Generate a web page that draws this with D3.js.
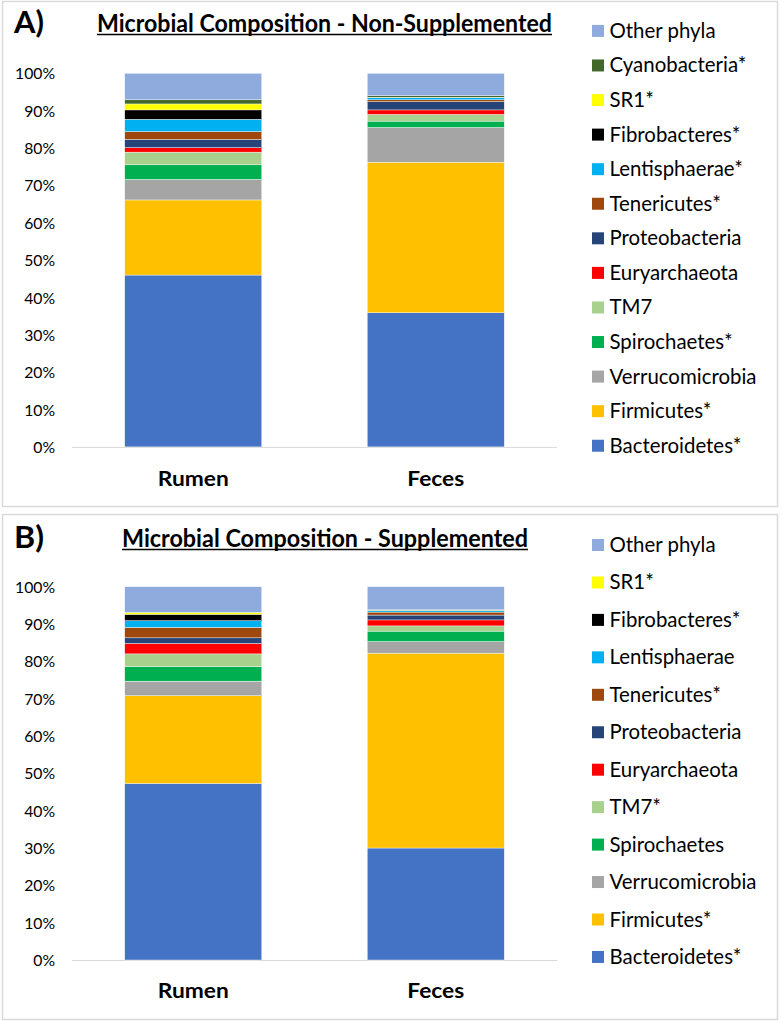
<!DOCTYPE html>
<html>
<head>
<meta charset="utf-8">
<script src="https://cdn.jsdelivr.net/npm/d3@7"></script>
<style>
  html, body { margin: 0; padding: 0; background: #fff; }
  svg { display: block; }
  text { font-family: Lato, "Open Sans", "DejaVu Sans", sans-serif; fill: #000; }
</style>
</head>
<body>
<svg id="chart" width="781" height="1023"></svg>
<script>
// ---------------- DATA ----------------
const samples = ["Rumen", "Feces"];
const tickValues = [0, 10, 20, 30, 40, 50, 60, 70, 80, 90, 100];
const tickLabels = ["0%", "10%", "20%", "30%", "40%", "50%", "60%", "70%", "80%", "90%", "100%"];

// Panel A (stack order bottom -> top)
const phylaA = ["Bacteroidetes*", "Firmicutes*", "Verrucomicrobia", "Spirochaetes*", "TM7",
  "Euryarchaeota", "Proteobacteria", "Tenericutes*", "Lentisphaerae*", "Fibrobacteres*",
  "SR1*", "Cyanobacteria*", "Other phyla"];
const rumenA = [46.0, 20.1, 5.5, 3.9, 3.4, 1.2, 2.2, 2.1, 3.3, 2.5, 1.6, 1.1, 7.1];
const fecesA = [35.9, 40.3, 9.3, 1.7, 1.8, 1.2, 2.2, 0.5, 0.6, 0.05, 0.05, 0.4, 6.0];

// Panel B (stack order bottom -> top)
const phylaB = ["Bacteroidetes*", "Firmicutes*", "Verrucomicrobia", "Spirochaetes", "TM7*",
  "Euryarchaeota", "Proteobacteria", "Tenericutes*", "Lentisphaerae", "Fibrobacteres*",
  "SR1*", "Other phyla"];
const rumenB = [47.3, 23.5, 3.9, 3.9, 3.4, 2.8, 1.5, 2.8, 1.8, 1.7, 0.5, 6.9];
const fecesB = [30.0, 52.2, 3.1, 2.8, 1.4, 1.6, 1.3, 0.8, 0.4, 0.1, 0.1, 6.2];

const titleA = "Microbial Composition - Non-Supplemented";
const titleB = "Microbial Composition - Supplemented";

// ---------------- STYLE ----------------
const phylumColors = {
  "Bacteroidetes": "#4472C4",
  "Firmicutes": "#FFC000",
  "Verrucomicrobia": "#A5A5A5",
  "Spirochaetes": "#00B050",
  "TM7": "#A9D18E",
  "Euryarchaeota": "#FF0000",
  "Proteobacteria": "#264478",
  "Tenericutes": "#9E480E",
  "Lentisphaerae": "#00B0F0",
  "Fibrobacteres": "#000000",
  "SR1": "#FFFF00",
  "Cyanobacteria": "#43682B",
  "Other phyla": "#8FAADC"
};
const colorOf = name => phylumColors[name.replace("*", "")];

const svg = d3.select("#chart");

function squeeze(sel, width) {
  sel.each(function () {
    this.setAttribute("textLength", width);
    this.setAttribute("lengthAdjust", "spacingAndGlyphs");
  });
}

function squeezeByFactor(sel, factor) {
  sel.each(function () {
    const n = this.getComputedTextLength();
    this.setAttribute("textLength", n * factor);
    this.setAttribute("lengthAdjust", "spacingAndGlyphs");
  });
}

function drawPanel(cfg) {
  const g = svg.append("g");

  // frame
  g.append("rect")
    .attr("x", 2.5).attr("y", cfg.frameTop + 0.5)
    .attr("width", 775).attr("height", cfg.frameH)
    .attr("fill", "#fff").attr("stroke", "#d9d9d9").attr("stroke-width", 1.5);

  // panel letter
  const letter = g.append("text")
    .attr("x", 14).attr("y", cfg.titleBase + 1)
    .attr("font-size", 30).attr("font-weight", 700)
    .text(cfg.letter);
  squeeze(letter, 30);

  // title
  const t = g.append("text")
    .attr("x", cfg.titleX).attr("y", cfg.titleBase)
    .attr("font-size", 24).attr("font-weight", 700)
    .text(cfg.title);
  squeeze(t, cfg.titleW);
  g.append("line")
    .attr("x1", cfg.titleX).attr("x2", cfg.titleX + cfg.titleW)
    .attr("y1", cfg.titleBase + 2.5).attr("y2", cfg.titleBase + 2.5)
    .attr("stroke", "#000").attr("stroke-width", 1.6);

  // scales
  const x = d3.scaleBand().domain(samples).range([72, 557])
    .paddingInner(0.435).paddingOuter(0.2175);
  const y = d3.scaleLinear().domain([0, 100]).range([cfg.y0, cfg.y100]);

  // stacked data
  const rows = samples.map((s, i) => {
    const r = { sample: s };
    cfg.phyla.forEach((p, j) => { r[p] = cfg.values[i][j]; });
    return r;
  });
  const series = d3.stack().keys(cfg.phyla)(rows);

  // y axis labels
  const yAxis = d3.axisLeft(y).tickValues(tickValues)
    .tickFormat((d, i) => tickLabels[i]).tickSize(0).tickPadding(0);
  const ax = g.append("g").attr("transform", "translate(55,0)").call(yAxis);
  ax.select(".domain").remove();
  ax.selectAll("text")
    .attr("font-size", 15.5).attr("fill", "#1a1a1a")
    .style("font-family", "Lato, 'Open Sans', sans-serif")
    .attr("dy", "0.36em");
  const ref = ax.selectAll("text").filter(d => d === 100).node();
  const f = 40 / ref.getComputedTextLength();
  squeezeByFactor(ax.selectAll("text"), f);

  // baseline
  g.append("line")
    .attr("x1", 72).attr("x2", 557)
    .attr("y1", y(0) + 0.5).attr("y2", y(0) + 0.5)
    .attr("stroke", "#d9d9d9").attr("stroke-width", 1);

  // bars
  g.append("g").selectAll("g").data(series).join("g")
    .attr("fill", d => colorOf(d.key))
    .selectAll("rect").data(d => d).join("rect")
    .attr("x", d => x(d.data.sample))
    .attr("width", x.bandwidth())
    .attr("y", d => y(d[1]))
    .attr("height", d => Math.max(0, y(d[0]) - y(d[1])))
    .attr("stroke", "#ffffff").attr("stroke-width", 0.4);

  // x axis labels
  const xAxis = d3.axisBottom(x).tickSize(0).tickPadding(0);
  const xa = g.append("g").attr("transform", `translate(0,${cfg.catBase})`).call(xAxis);
  xa.select(".domain").remove();
  xa.selectAll("text")
    .attr("font-size", 21.5).attr("font-weight", 700).attr("fill", "#000")
    .style("font-family", "Lato, 'Open Sans', sans-serif")
    .attr("dy", 0);
  const rn = xa.selectAll("text").filter(d => d === "Rumen").node();
  squeezeByFactor(xa.selectAll("text"), 71 / rn.getComputedTextLength());

  // legend (top -> bottom is reverse stack order)
  const legendItems = cfg.phyla.slice().reverse();
  const lg = g.append("g");
  const items = lg.selectAll("g").data(legendItems).join("g")
    .attr("transform", (d, i) => `translate(592,${cfg.legTop + i * cfg.legStep})`);
  items.append("rect")
    .attr("x", 0).attr("y", -6).attr("width", 12).attr("height", 12)
    .attr("fill", d => colorOf(d));
  const lt = items.append("text")
    .attr("x", 17.5).attr("y", 7)
    .attr("font-size", 21).attr("fill", "#1a1a1a")
    .text(d => d);
  const bn = lt.filter(d => d === "Bacteroidetes*").node();
  squeezeByFactor(lt, 132 / bn.getComputedTextLength());
}

drawPanel({
  letter: "A)", title: titleA, titleX: 97, titleW: 455, titleBase: 32,
  frameTop: 1, frameH: 505,
  phyla: phylaA, values: [rumenA, fecesA],
  y0: 446.9, y100: 73.3, catBase: 486,
  legTop: 30.9, legStep: 34.57
});

drawPanel({
  letter: "B)", title: titleB, titleX: 122, titleW: 406, titleBase: 547,
  frameTop: 514, frameH: 505,
  phyla: phylaB, values: [rumenB, fecesB],
  y0: 960, y100: 586.7, catBase: 998,
  legTop: 545, legStep: 37.45
});
</script>
</body>
</html>
